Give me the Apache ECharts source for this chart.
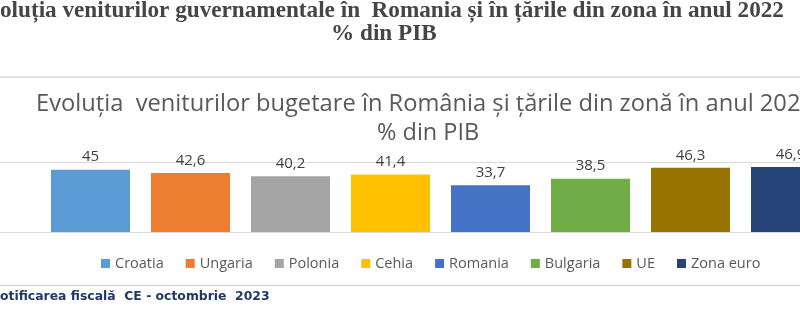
<!DOCTYPE html>
<html>
<head>
<meta charset="utf-8">
<script src="https://cdn.jsdelivr.net/npm/echarts@6/dist/echarts.min.js"></script>
<style>
html,body{margin:0;padding:0;background:#fff;overflow:hidden;width:800px;height:309px;position:relative;}
#chart{position:absolute;left:-100px;top:0;width:1000px;height:309px;}
</style>
</head>
<body>
<div id="chart"></div>
<script>
const docTitle = "oluția veniturilor guvernamentale în  Romania și în țările din zona în anul 2022";
const docSubtitle = "% din PIB";
const chartTitle = "Evoluția  veniturilor bugetare în România și țările din zonă în anul 2022";
const chartSubtitle = "% din PIB";
const footerText = "otificarea fiscală  CE - octombrie  2023";
const categories = ["Croatia", "Ungaria", "Polonia", "Cehia", "Romania", "Bulgaria", "UE", "Zona euro"];
const values = [45, 42.6, 40.2, 41.4, 33.7, 38.5, 46.3, 46.9];
const colors = ["#5B9BD5", "#ED7D31", "#A5A5A5", "#FFC000", "#4472C4", "#70AD47", "#997300", "#264478"];
const yMin = 0, yMax = 50, yInterval = 50;

// the page shows the region x = 100..900 of this 1000px-wide chart
const OFF = 100;

const chart = echarts.init(document.getElementById('chart'), null, {renderer: 'canvas'});
const series = categories.map((name, i) => ({
  name: name,
  type: 'bar',
  stack: 'all',
  barWidth: 79,
  itemStyle: {color: colors[i]},
  label: {
    show: true, position: 'top', distance: 5,
    fontFamily: 'Open Sans', fontSize: 15, color: '#404040',
    formatter: p => String(p.value).replace('.', ',')
  },
  data: categories.map((c, j) => j === i ? values[i] : '-')
}));

chart.setOption({
  animation: false,
  backgroundColor: '#ffffff',
  title: [
    {text: docTitle, left: OFF + 0, top: 0, padding: 0,
     textStyle: {fontFamily: 'Liberation Serif', fontWeight: 'bold', fontSize: 23.2, color: '#454545'}},
    {text: docSubtitle, left: OFF + 331, top: 23, padding: 0,
     textStyle: {fontFamily: 'Liberation Serif', fontWeight: 'bold', fontSize: 23.2, color: '#454545'}},
    {text: chartTitle, left: OFF + 36, top: 92, padding: 0,
     textStyle: {fontFamily: 'Open Sans', fontWeight: 'normal', fontSize: 23.7, color: '#595959'}},
    {text: chartSubtitle, left: OFF + 377, top: 121, padding: 0,
     textStyle: {fontFamily: 'Open Sans', fontWeight: 'normal', fontSize: 23.5, color: '#595959'}},
    {text: footerText, left: OFF + 0, top: 291, padding: 0,
     textStyle: {fontFamily: 'DejaVu Sans', fontWeight: 'bold', fontSize: 12.4, color: '#1F3864'}}
  ],
  graphic: [
    {type: 'line', shape: {x1: OFF, y1: 77, x2: OFF + 800, y2: 77}, style: {stroke: '#d9d9d9', lineWidth: 1.5}, silent: true},
    {type: 'line', shape: {x1: OFF, y1: 285.5, x2: OFF + 800, y2: 285.5}, style: {stroke: '#d9d9d9', lineWidth: 1.5}, silent: true}
  ],
  legend: {
    data: categories,
    left: OFF + 101, top: 256, padding: 0,
    itemWidth: 9, itemHeight: 9, itemGap: 22,
    icon: 'rect',
    textStyle: {fontFamily: 'Open Sans', fontSize: 14.5, color: '#595959'}
  },
  grid: {left: OFF - 59.5, top: 162.7, width: 900, height: 69.3, containLabel: false},
  xAxis: {
    type: 'category', data: categories, min: -1,
    axisLine: {show: true, lineStyle: {color: '#d9d9d9', width: 1}},
    axisTick: {show: false}, axisLabel: {show: false}, splitLine: {show: false}
  },
  yAxis: {
    type: 'value', min: yMin, max: yMax, interval: yInterval,
    axisLine: {show: false}, axisTick: {show: false}, axisLabel: {show: false},
    splitLine: {show: true, lineStyle: {color: '#d9d9d9', width: 1}}
  },
  series: series
});
</script>
</body>
</html>
